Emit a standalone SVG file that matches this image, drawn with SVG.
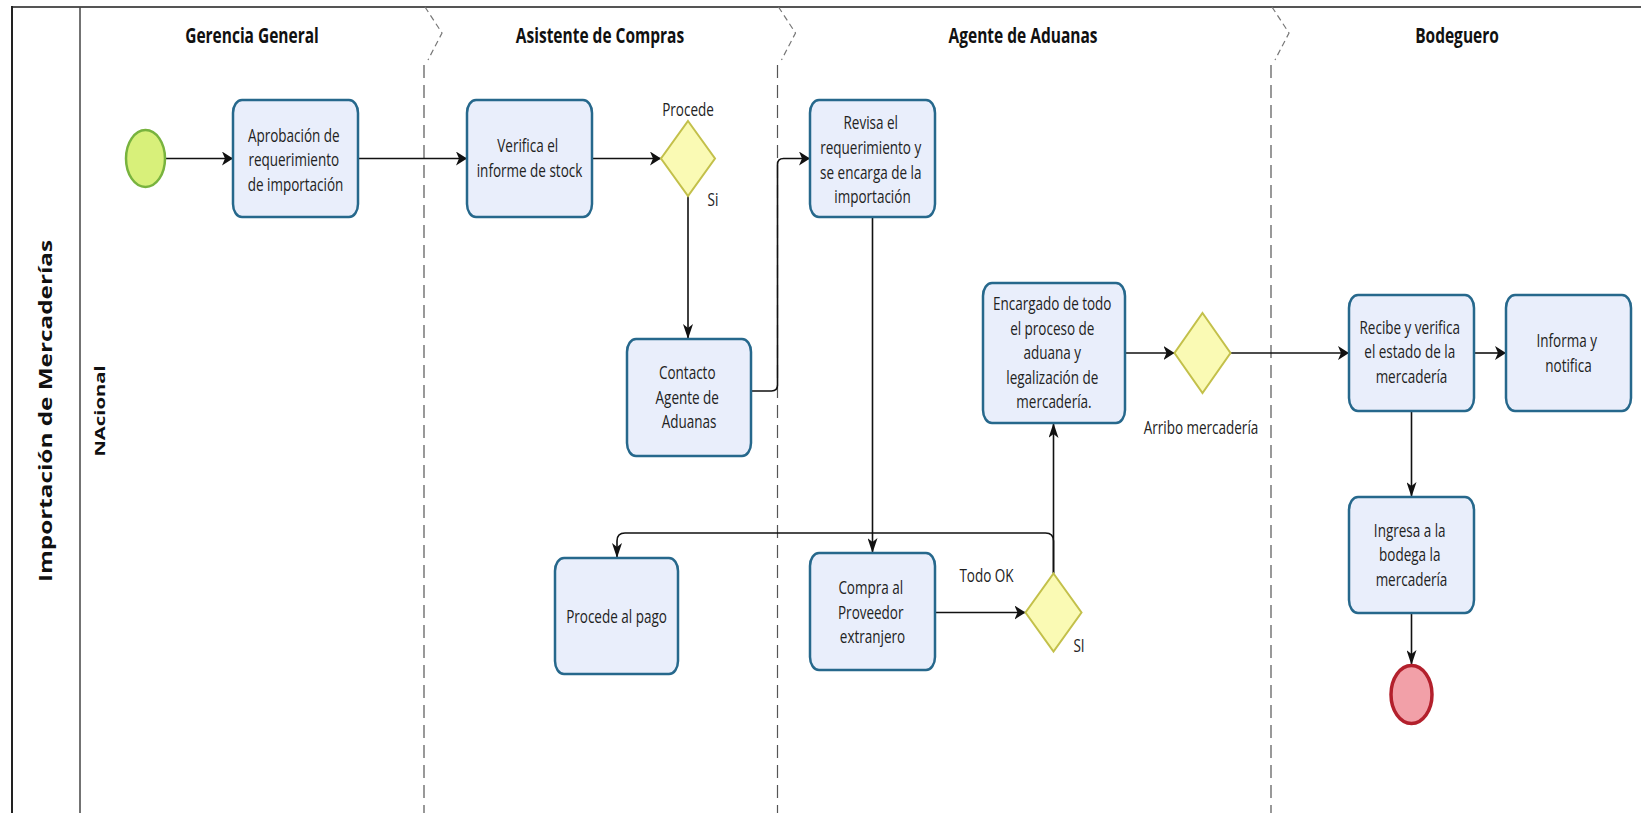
<svg xmlns="http://www.w3.org/2000/svg" width="1643" height="813" viewBox="0 0 1643 813">
  <style>
    .task { fill: #e9eefb; stroke: #26688c; stroke-width: 2.5; }
    .gw { fill: #fafab4; stroke: #c3c04a; stroke-width: 2; }
    .t { font-family: "Open Sans", "Noto Sans", "DejaVu Sans", sans-serif; font-size: 13.5px; fill: #222; text-anchor: middle; }
    .title { font-family: "Open Sans", "Noto Sans", "DejaVu Sans", sans-serif; font-weight: bold; font-size: 15.5px; fill: #111; text-anchor: middle; }
    .pool { font-family: "Open Sans", "Noto Sans", "DejaVu Sans", sans-serif; font-weight: bold; fill: #111; text-anchor: middle; }
    .flow { fill: none; stroke: #111; stroke-width: 1.6; }
    .divider { fill: none; stroke: #555; stroke-width: 1.2; stroke-dasharray: 13 7; }
    .chev { fill: none; stroke: #777; stroke-width: 1.2; stroke-dasharray: 6 4; }
  </style>
  <defs>
    <marker id="ah" markerUnits="userSpaceOnUse" viewBox="0 0 12 14" markerWidth="12" markerHeight="14" refX="11" refY="7" orient="auto">
      <path d="M0,0 L11,7 L0,14 L3,7 Z" fill="#111"/>
    </marker>
    <marker id="av" markerUnits="userSpaceOnUse" viewBox="0 0 16 10" markerWidth="16" markerHeight="10" refX="15" refY="5" orient="auto">
      <path d="M0,0 L15,5 L0,10 L4,5 Z" fill="#111"/>
    </marker>
  </defs>

  <rect width="1643" height="813" fill="#fff"/>

  <!-- pool frame -->
  <g id="pool">
    <line x1="12" y1="7" x2="1641" y2="7" stroke="#555" stroke-width="2"/>
    <line x1="12" y1="6" x2="12" y2="813" stroke="#222" stroke-width="2"/>
    <line x1="80" y1="7" x2="80" y2="813" stroke="#444" stroke-width="1.5"/>
    <text class="pool" font-size="18" transform="translate(52 411) scale(1 1.35) rotate(-90)" x="0" y="0">Importación de Mercaderías</text>
    <text class="pool" font-size="15" transform="translate(105 411) scale(1 1.35) rotate(-90)" x="0" y="0">NAcional</text>
  </g>

  <!-- lane separators -->
  <g id="lanes">
    <path class="chev" d="M425,7 L442,33 L428,60"/>
    <line class="divider" x1="424" y1="65" x2="424" y2="813"/>
    <path class="chev" d="M778.5,7 L795.5,33 L781.5,60"/>
    <line class="divider" x1="777.5" y1="65" x2="777.5" y2="813"/>
    <path class="chev" d="M1272,7 L1289,33 L1275,60"/>
    <line class="divider" x1="1271" y1="65" x2="1271" y2="813"/>
    <text class="title" transform="translate(252 36) scale(1 1.35)" x="0" y="5.2">Gerencia General</text>
    <text class="title" transform="translate(600 36) scale(1 1.35)" x="0" y="5.2">Asistente de Compras</text>
    <text class="title" transform="translate(1023 36) scale(1 1.35)" x="0" y="5.2">Agente de Aduanas</text>
    <text class="title" transform="translate(1457 36) scale(1 1.35)" x="0" y="5.2">Bodeguero</text>
  </g>

  <!-- sequence flows -->
  <g id="connectors">
    <path class="flow" d="M165,158.5 H233" marker-end="url(#ah)"/>
    <path class="flow" d="M358,158.5 H467" marker-end="url(#ah)"/>
    <path class="flow" d="M592,158.5 H661" marker-end="url(#ah)"/>
    <path class="flow" d="M688,196 V339" marker-end="url(#av)"/>
    <path class="flow" d="M751,391 H771.5 Q777.5,391 777.5,385 V164.5 Q777.5,158.5 783.5,158.5 H810" marker-end="url(#ah)"/>
    <path class="flow" d="M872.5,217 V553" marker-end="url(#av)"/>
    <path class="flow" d="M935,612.5 H1025.5" marker-end="url(#ah)"/>
    <path class="flow" d="M1053.5,573.5 V423" marker-end="url(#av)"/>
    <path class="flow" d="M1053.5,573.5 V541 Q1053.5,533 1045.5,533 H625 Q617,533 617,541 V558" marker-end="url(#av)"/>
    <path class="flow" d="M1125,353 H1174.5" marker-end="url(#ah)"/>
    <path class="flow" d="M1230.5,353 H1349" marker-end="url(#ah)"/>
    <path class="flow" d="M1474,353 H1506" marker-end="url(#ah)"/>
    <path class="flow" d="M1411.5,411 V497" marker-end="url(#av)"/>
    <path class="flow" d="M1411.5,613 V665" marker-end="url(#av)"/>
  </g>

  <!-- events -->
  <g id="start">
    <ellipse cx="145.5" cy="158.5" rx="19.5" ry="28.5" fill="#d8f07a" stroke="#78b33e" stroke-width="2.5"/>
  </g>
  <g id="end">
    <ellipse cx="1411.5" cy="694.5" rx="20.5" ry="29" fill="#f2a0a8" stroke="#b3202c" stroke-width="3.5"/>
  </g>

  <!-- tasks -->
  <g id="aprobacion">
    <rect class="task" x="233" y="100" width="125" height="117" rx="9" ry="13"/>
    <text class="t" transform="translate(295.5 160) scale(1 1.35)">
      <tspan x="0" y="-13.5">Aprobación de</tspan>
      <tspan x="0" y="4.7">requerimiento</tspan>
      <tspan x="0" y="22.9">de importación</tspan>
    </text>
  </g>
  <g id="verifica">
    <rect class="task" x="467" y="100" width="125" height="117" rx="9" ry="13"/>
    <text class="t" transform="translate(529.5 158) scale(1 1.35)">
      <tspan x="0" y="-4.4">Verifica el</tspan>
      <tspan x="0" y="13.8">informe de stock</tspan>
    </text>
  </g>
  <g id="contacto">
    <rect class="task" x="627" y="339" width="124" height="117" rx="9" ry="13"/>
    <text class="t" transform="translate(689 397.5) scale(1 1.35)">
      <tspan x="0" y="-13.5">Contacto</tspan>
      <tspan x="0" y="4.7">Agente de</tspan>
      <tspan x="0" y="22.9">Aduanas</tspan>
    </text>
  </g>
  <g id="procede-pago">
    <rect class="task" x="555" y="558" width="123" height="116" rx="9" ry="13"/>
    <text class="t" transform="translate(616.5 617) scale(1 1.35)">
      <tspan x="0" y="4.7">Procede al pago</tspan>
    </text>
  </g>
  <g id="revisa">
    <rect class="task" x="810" y="100" width="125" height="117" rx="9" ry="13"/>
    <text class="t" transform="translate(872.5 160) scale(1 1.35)">
      <tspan x="0" y="-22.6">Revisa el</tspan>
      <tspan x="0" y="-4.4">requerimiento y</tspan>
      <tspan x="0" y="13.8">se encarga de la</tspan>
      <tspan x="0" y="32">importación</tspan>
    </text>
  </g>
  <g id="compra">
    <rect class="task" x="810" y="553" width="125" height="117" rx="9" ry="13"/>
    <text class="t" transform="translate(872.5 612.5) scale(1 1.35)">
      <tspan x="0" y="-13.5">Compra al</tspan>
      <tspan x="0" y="4.7">Proveedor</tspan>
      <tspan x="0" y="22.9">extranjero</tspan>
    </text>
  </g>
  <g id="encargado">
    <rect class="task" x="983" y="283" width="142" height="140" rx="9" ry="13"/>
    <text class="t" transform="translate(1054 353) scale(1 1.35)">
      <tspan x="0" y="-31.7">Encargado de todo</tspan>
      <tspan x="0" y="-13.5">el proceso de</tspan>
      <tspan x="0" y="4.7">aduana y</tspan>
      <tspan x="0" y="22.9">legalización de</tspan>
      <tspan x="0" y="41.1">mercadería.</tspan>
    </text>
  </g>
  <g id="recibe">
    <rect class="task" x="1349" y="295" width="125" height="116" rx="9" ry="13"/>
    <text class="t" transform="translate(1411.5 352) scale(1 1.35)">
      <tspan x="0" y="-13.5">Recibe y verifica</tspan>
      <tspan x="0" y="4.7">el estado de la</tspan>
      <tspan x="0" y="22.9">mercadería</tspan>
    </text>
  </g>
  <g id="informa">
    <rect class="task" x="1506" y="295" width="125" height="116" rx="9" ry="13"/>
    <text class="t" transform="translate(1568.5 353) scale(1 1.35)">
      <tspan x="0" y="-4.4">Informa y</tspan>
      <tspan x="0" y="13.8">notifica</tspan>
    </text>
  </g>
  <g id="ingresa">
    <rect class="task" x="1349" y="497" width="125" height="116" rx="9" ry="13"/>
    <text class="t" transform="translate(1411.5 555) scale(1 1.35)">
      <tspan x="0" y="-13.5">Ingresa a la</tspan>
      <tspan x="0" y="4.7">bodega la</tspan>
      <tspan x="0" y="22.9">mercadería</tspan>
    </text>
  </g>

  <!-- gateways -->
  <g id="gw-procede">
    <polygon class="gw" points="688,121 715,158.5 688,196 661,158.5"/>
    <text class="t" transform="translate(688 110) scale(1 1.35)" x="0" y="4.7">Procede</text>
    <text class="t" transform="translate(713 200) scale(1 1.35)" x="0" y="4.7">Si</text>
  </g>
  <g id="gw-todo-ok">
    <polygon class="gw" points="1053.5,573.5 1081.5,612.5 1053.5,651.5 1025.5,612.5"/>
    <text class="t" transform="translate(986.5 576) scale(1 1.35)" x="0" y="4.7">Todo OK</text>
    <text class="t" transform="translate(1079 646) scale(1 1.35)" x="0" y="4.7">SI</text>
  </g>
  <g id="gw-arribo">
    <polygon class="gw" points="1202.5,313 1230.5,353 1202.5,393 1174.5,353"/>
    <text class="t" transform="translate(1201 428) scale(1 1.35)" x="0" y="4.7">Arribo mercadería</text>
  </g>
</svg>
